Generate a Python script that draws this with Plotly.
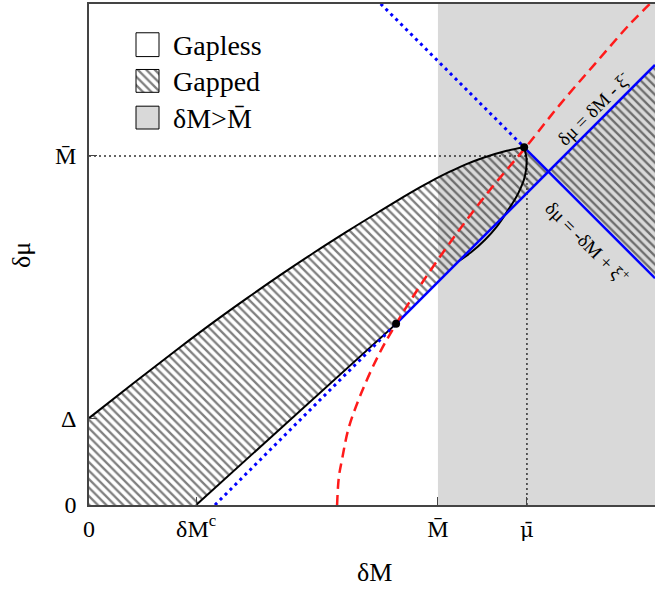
import plotly.graph_objects as go

# ---------------- data (units: M-bar = 1) ----------------
x_max = 1.622
y_max = 1.4355

delta = 0.249          # Delta on the delta-mu axis
m_bar = 1.0            # M-bar
mu_bar = 1.255         # mu-bar
dm_c = 0.307           # delta M^c

# upper boundary of gapped lobe (from (0, Delta) to tip)
upper_x = [0.0, 0.13, 0.261, 0.36, 0.452, 0.55, 0.643, 0.74, 0.834, 0.90, 0.948, 0.977, 1.034, 1.08, 1.13, 1.197, 1.247]
upper_y = [0.249, 0.351, 0.452, 0.526, 0.592, 0.660, 0.722, 0.784, 0.842, 0.882, 0.910, 0.926, 0.955, 0.976, 0.995, 1.015, 1.025]

# inner (lower) branch from tip down to the blue line
lower_x = [1.247, 1.254, 1.249, 1.230, 1.201, 1.168, 1.135, 1.095, 1.060]
lower_y = [1.025, 0.989, 0.941, 0.893, 0.845, 0.797, 0.760, 0.724, 0.699]

# straight black boundary from dM^c to the lower dot
black_line_x = [0.307, 0.880]
black_line_y = [0.0, 0.519]

# blue line  d mu = dM - xi^-   (dotted part, solid part)
blue1_dot_x = [0.361, 0.880]
blue1_dot_y = [0.0, 0.519]
blue1_x = [0.880, 1.3165, 1.622]
blue1_y = [0.519, 0.9555, 1.261]

# blue line  d mu = -dM + xi^+  (dotted part, solid part)
blue2_dot_x = [0.836, 1.247]
blue2_dot_y = [1.436, 1.025]
blue2_x = [1.247, 1.3165, 1.622]
blue2_y = [1.025, 0.9555, 0.650]

# red dashed curve
red_x = [0.711, 0.716, 0.725, 0.744, 0.78, 0.83, 0.88, 0.95, 1.05, 1.15, 1.25, 1.35, 1.45, 1.55, 1.622]
red_y = [0.0, 0.08, 0.13, 0.22, 0.32, 0.43, 0.519, 0.63, 0.773, 0.904, 1.023, 1.148, 1.264, 1.378, 1.45]

# special points
dot_x = [0.880, 1.247]
dot_y = [0.519, 1.025]

x_tickvals = [0.0, dm_c, m_bar, mu_bar]
x_ticktext = ["0", "δM<sup>c</sup>", "M\u0304",
              "<span style='font-family:DejaVu Serif;font-size:21px'>\u03bc\u0304</span>"]
y_tickvals = [0.0, delta, m_bar]
y_ticktext = ["0", "Δ", "M\u0304"]

legend_labels = ["Gapless", "Gapped", "δM>M\u0304"]

# ---------------- figure ----------------
FONT = "Liberation Serif"
W, H = 655, 593
ML, MR, MT, MB = 89, 0, 4, 88
PW, PH = W - ML - MR, H - MT - MB

fig = go.Figure()

hatch = dict(shape="\\", fgcolor="black", bgcolor="rgba(0,0,0,0)", size=6, solidity=0.38)

# hatched (gapped) region: lobe + right wedge
poly_x = ([0.0] + upper_x + [blue2_x[1], blue2_x[2], blue1_x[2], blue1_x[1], blue1_x[0]]
          + [black_line_x[0], 0.0])
poly_y = ([0.0] + upper_y + [blue2_y[1], blue2_y[2], blue1_y[2], blue1_y[1], blue1_y[0]]
          + [black_line_y[0], 0.0])
fig.add_trace(go.Scatter(x=poly_x, y=poly_y, mode="lines", fill="toself",
                         fillcolor="rgba(0,0,0,0)", fillpattern=hatch,
                         line=dict(width=0), hoverinfo="skip", showlegend=False))

# reference dotted lines
fig.add_trace(go.Scatter(x=[0.0, mu_bar], y=[m_bar, m_bar], mode="lines",
                         line=dict(color="#333333", width=1.5, dash="2px,3px"), showlegend=False))
fig.add_trace(go.Scatter(x=[mu_bar, mu_bar], y=[0.0, m_bar], mode="lines",
                         line=dict(color="#333333", width=1.5, dash="2px,3px"), showlegend=False))

# black boundaries
fig.add_trace(go.Scatter(x=upper_x, y=upper_y, mode="lines", line_shape="spline",
                         line=dict(color="black", width=2), showlegend=False))
fig.add_trace(go.Scatter(x=lower_x, y=lower_y, mode="lines", line_shape="spline",
                         line=dict(color="black", width=2), showlegend=False))
fig.add_trace(go.Scatter(x=black_line_x, y=black_line_y, mode="lines",
                         line=dict(color="black", width=2), showlegend=False))

# blue lines
fig.add_trace(go.Scatter(x=blue1_dot_x, y=blue1_dot_y, mode="lines",
                         line=dict(color="#0000ff", width=3, dash="3px,4px"), showlegend=False))
fig.add_trace(go.Scatter(x=blue2_dot_x, y=blue2_dot_y, mode="lines",
                         line=dict(color="#0000ff", width=3, dash="3px,4px"), showlegend=False))
fig.add_trace(go.Scatter(x=blue1_x, y=blue1_y, mode="lines",
                         line=dict(color="#0000ff", width=2.5), showlegend=False))
fig.add_trace(go.Scatter(x=blue2_x, y=blue2_y, mode="lines",
                         line=dict(color="#0000ff", width=2.5), showlegend=False))

# red dashed
fig.add_trace(go.Scatter(x=red_x, y=red_y, mode="lines", line_shape="spline",
                         line=dict(color="#ff1a1a", width=2.5, dash="10px,6px"), showlegend=False))

# dots
fig.add_trace(go.Scatter(x=dot_x, y=dot_y, mode="markers",
                         marker=dict(color="black", size=8), showlegend=False))

# ---- legend boxes drawn on an overlay axis in pixel units ----
box_x0, box_x1 = 47, 70
box_rows = [(452, 476), (416, 439), (379, 402)]
box_fills = ["white", None, "#d9d9d9"]
for (y0, y1), fc in zip(box_rows, box_fills):
    kw = dict(fillcolor=fc) if fc else dict(fillcolor="rgba(0,0,0,0)", fillpattern=hatch)
    fig.add_trace(go.Scatter(x=[box_x0, box_x1, box_x1, box_x0, box_x0],
                             y=[y0, y0, y1, y1, y0], mode="lines", fill="toself",
                             line=dict(color="black", width=1), xaxis="x2", yaxis="y2",
                             hoverinfo="skip", showlegend=False, **kw))
for lab, (y0, y1) in zip(legend_labels, box_rows):
    fig.add_annotation(x=82, y=(y0 + y1) / 2 - 1, xref="x2", yref="y2", text=lab,
                       showarrow=False, xanchor="left", yanchor="middle",
                       font=dict(family=FONT, size=28, color="black"))

# gray region dM > M-bar
fig.add_shape(type="rect", xref="x", yref="y", x0=m_bar, x1=x_max + 0.05, y0=0, y1=y_max + 0.05,
              fillcolor="#d9d9d9", line=dict(width=0), layer="below")

# line labels
fig.add_annotation(x=1.444, y=1.1375, text="δμ = δM - ξ<sup>-</sup>", showarrow=False,
                   textangle=-45, font=dict(family=FONT, size=19, color="black"))
fig.add_annotation(x=1.430, y=0.754, text="δμ = -δM + ξ<sup>+</sup>", showarrow=False,
                   textangle=45, font=dict(family=FONT, size=19, color="black"))

# axis titles
fig.add_annotation(x=(374 - ML) / PW, y=(505 - 572) / PH, xref="paper", yref="paper",
                   xanchor="center", yanchor="middle",
                   text="δM", showarrow=False, font=dict(family=FONT, size=26, color="black"))
fig.add_annotation(x=(21 - ML) / PW, y=(505 - 255) / PH, xref="paper", yref="paper",
                   xanchor="center", yanchor="middle",
                   text="δμ", showarrow=False, textangle=-90,
                   font=dict(family=FONT, size=26, color="black"))

axis_common = dict(showgrid=False, zeroline=False, ticks="inside", ticklen=8, tickwidth=1.2,
                   tickcolor="#444444", showline=True, linecolor="#444444", linewidth=1.5,
                   tickfont=dict(family=FONT, size=24, color="black"))

fig.update_layout(
    width=W, height=H,
    margin=dict(l=ML, r=MR, t=MT, b=MB),
    paper_bgcolor="white", plot_bgcolor="white",
    xaxis=dict(range=[0, x_max], tickvals=x_tickvals, ticktext=x_ticktext,
               mirror=True, ticklabelstandoff=1, **axis_common),
    yaxis=dict(range=[0, y_max], tickvals=y_tickvals, ticktext=y_ticktext,
               ticklabelstandoff=6, **axis_common),
    xaxis2=dict(range=[0, PW], overlaying="x", visible=False, anchor="y2"),
    yaxis2=dict(range=[0, PH + 4], overlaying="y", visible=False, anchor="x2"),
    showlegend=False,
)

fig.write_html("out.html", config={"displayModeBar": False},
               post_script="document.body.style.margin='0px';document.body.style.overflow='hidden';")
